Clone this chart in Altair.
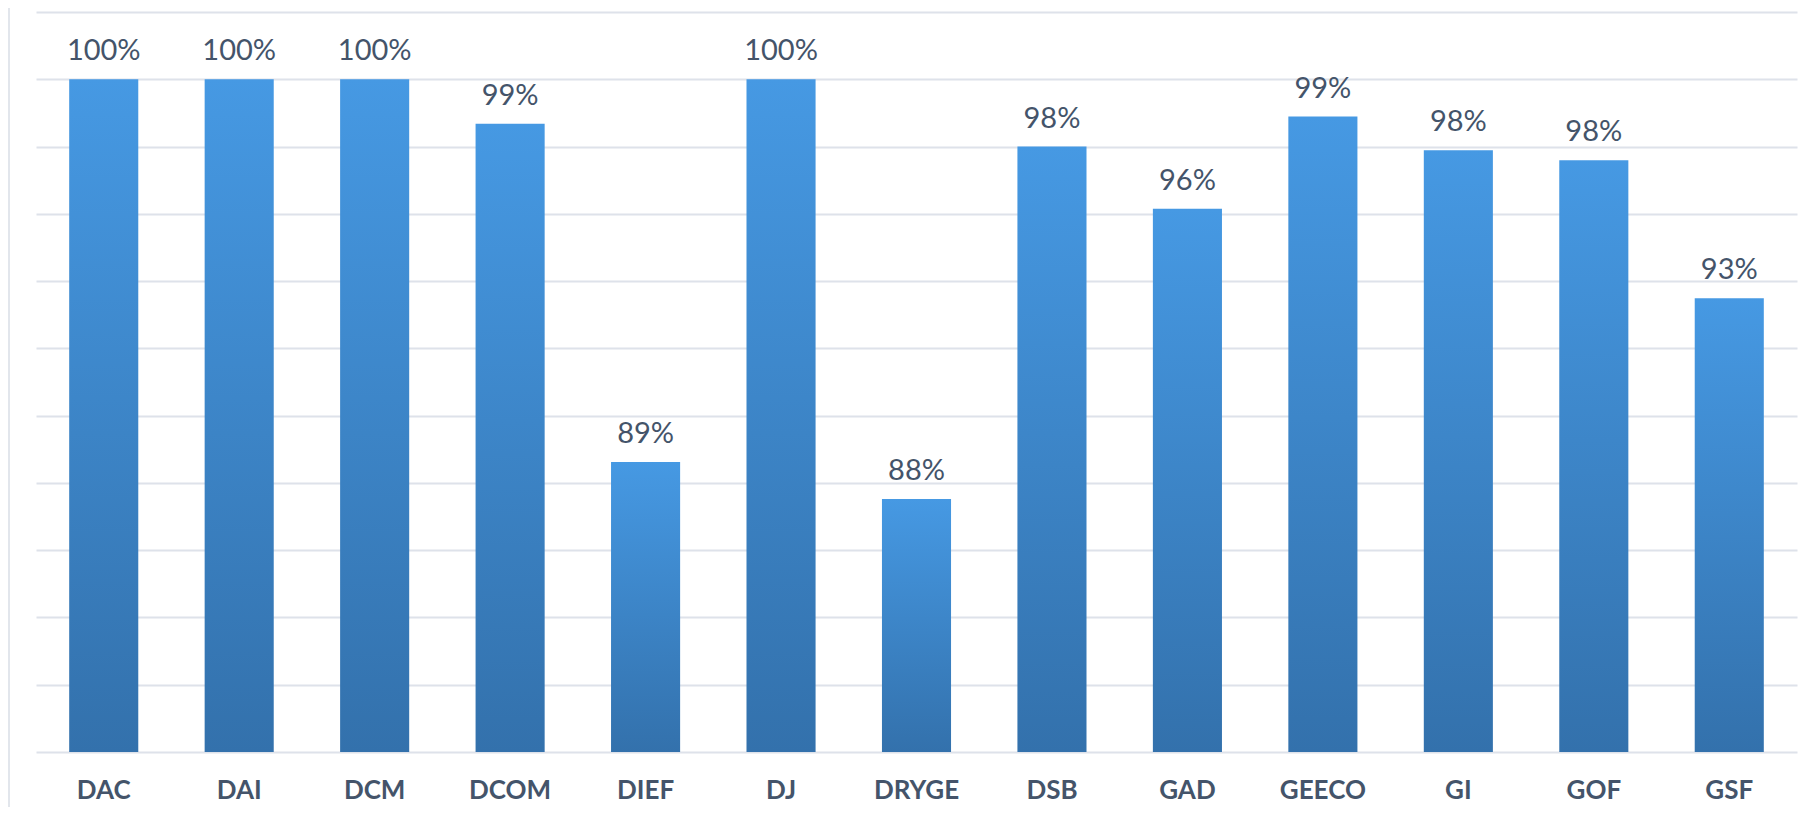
import altair as alt
import pandas as pd

categories = ["DAC", "DAI", "DCM", "DCOM", "DIEF", "DJ", "DRYGE", "DSB", "GAD", "GEECO", "GI", "GOF", "GSF"]
values = [100.0, 100.0, 100.0, 98.68, 88.62, 100.0, 87.52, 98.0, 96.15, 98.89, 97.89, 97.59, 93.49]
labels = ["100%", "100%", "100%", "99%", "89%", "100%", "88%", "98%", "96%", "99%", "98%", "98%", "93%"]
grid_values = [80, 82, 84, 86, 88, 90, 92, 94, 96, 98, 100, 102]

df = pd.DataFrame({"cat": categories, "val": values, "label": labels})

TEXT = "#44546A"
FONT = "Lato"

x = alt.X("cat:N", sort=categories, title=None,
          scale=alt.Scale(paddingInner=0.49, paddingOuter=0.245),
          axis=alt.Axis(labelAngle=0, labelFont=FONT, labelFontSize=26, labelFontWeight="bold",
                        labelColor=TEXT, labelPadding=25, ticks=False, domain=False, grid=False))
y = alt.Y("val:Q", title=None,
          scale=alt.Scale(domain=[80, 102], nice=False, zero=False, clamp=True),
          axis=alt.Axis(values=grid_values, labels=False, ticks=False, domain=False,
                        grid=True, gridColor="#DEE2EA", gridWidth=2))

grad = alt.Gradient(gradient="linear", x1=0, x2=0, y1=0, y2=1,
                    stops=[alt.GradientStop(color="#4699E3", offset=0),
                           alt.GradientStop(color="#3371AC", offset=1)])

bars = alt.Chart(df).mark_bar(color=grad).encode(x=x, y=y)

text = alt.Chart(df).mark_text(baseline="alphabetic", dy=-19, font=FONT, fontSize=29,
                               color=TEXT).encode(x=alt.X("cat:N", sort=categories), y="val:Q", text="label:N")

border = alt.Chart(pd.DataFrame({"a": [0]})).mark_rule(color="#E2E6EC", strokeWidth=2).encode(
    x=alt.value(-27), y=alt.value(-4), y2=alt.value(795))

chart = alt.layer(border, bars, text).properties(
    width=1761, height=740,
    autosize=alt.AutoSizeParams(type="none"),
    padding={"left": 28, "top": 4, "right": 2, "bottom": 56},
    background="white",
).configure_view(stroke=None)

chart.save("out.html", embed_options={"renderer": "svg", "actions": False})
